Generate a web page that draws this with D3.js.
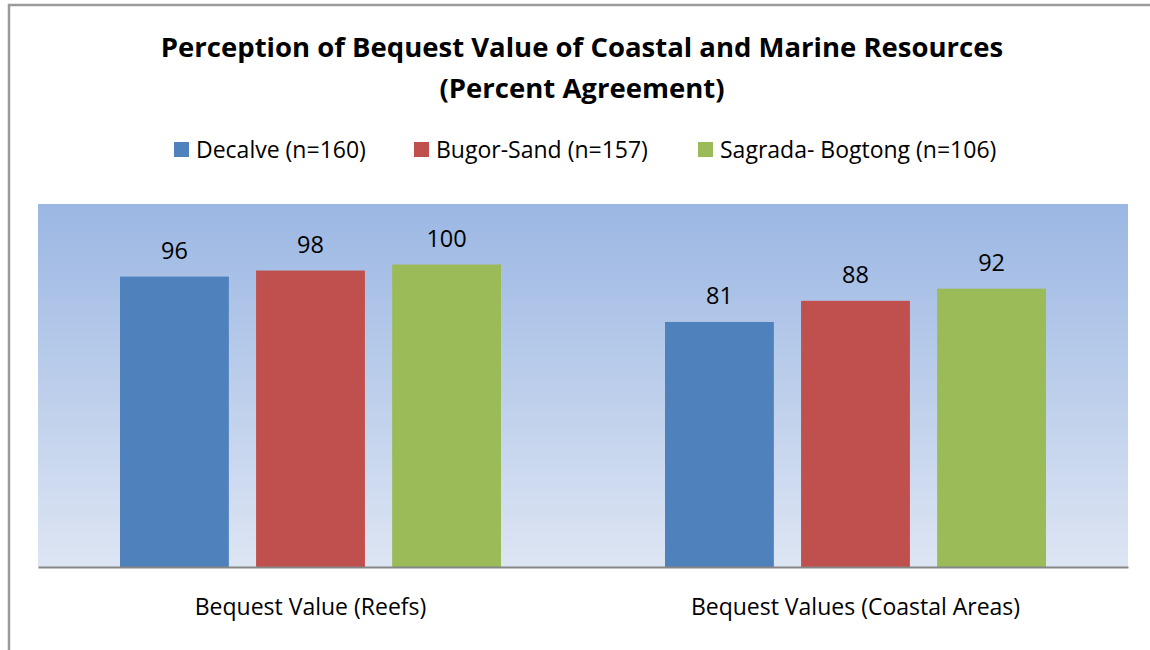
<!DOCTYPE html>
<meta charset="utf-8">
<script src="https://d3js.org/d3.v7.min.js"></script>
<style>
  body { margin: 0; background: #fff; }
  text { font-family: "Open Sans", "Noto Sans", sans-serif; fill: #000; }
</style>
<div id="chart"></div>
<script>

// data
var categories = ["Bequest Value (Reefs)", "Bequest Values (Coastal Areas)"];
var seriesNames = ["Decalve (n=160)", "Bugor-Sand (n=157)", "Sagrada- Bogtong (n=106)"];
var decalve = [96, 81];
var bugorSand = [98, 88];
var sagrada = [100, 92];
var seriesValues = [decalve, bugorSand, sagrada];
var colors = ["#4f81bd", "#c0504d", "#9bbb59"];

var W = 1150, H = 650;
var plot = {left: 38, top: 204, right: 1128, bottom: 567};

var svg = d3.select("#chart").append("svg")
  .attr("width", W).attr("height", H);

// outer chart border (runs off the right/bottom edge)
svg.append("rect")
  .attr("x", 9).attr("y", 5)
  .attr("width", 1160).attr("height", 660)
  .attr("fill", "none").attr("stroke", "#9a9a9a").attr("stroke-width", 2.5);

// gradient plot background
var grad = svg.append("defs").append("linearGradient")
  .attr("id", "bg").attr("x1", 0).attr("y1", 0).attr("x2", 0).attr("y2", 1);
grad.append("stop").attr("offset", "0%").attr("stop-color", "#9bb7e3");
grad.append("stop").attr("offset", "100%").attr("stop-color", "#dde5f3");

svg.append("rect")
  .attr("x", plot.left).attr("y", plot.top)
  .attr("width", plot.right - plot.left).attr("height", plot.bottom - plot.top)
  .attr("fill", "url(#bg)");

// scales
var x0 = d3.scaleBand()
  .domain(categories)
  .range([plot.left, plot.right]);

var x1 = d3.scaleBand()
  .domain(d3.range(seriesNames.length))
  .range([82, x0.bandwidth() - 82])
  .paddingInner(0.2);

var y = d3.scaleLinear()
  .domain([0, 120])
  .range([plot.bottom, plot.top]);

// bars
var groups = svg.selectAll(".grp")
  .data(categories)
  .enter().append("g")
    .attr("transform", function(d) { return "translate(" + x0(d) + ",0)"; });

groups.selectAll("rect")
  .data(function(d, i) { return seriesValues.map(function(s, k) { return {k: k, v: s[i]}; }); })
  .enter().append("rect")
    .attr("x", function(d) { return x1(d.k); })
    .attr("y", function(d) { return y(d.v); })
    .attr("width", x1.bandwidth())
    .attr("height", function(d) { return y(0) - y(d.v); })
    .attr("fill", function(d) { return colors[d.k]; });

groups.selectAll(".val")
  .data(function(d, i) { return seriesValues.map(function(s, k) { return {k: k, v: s[i]}; }); })
  .enter().append("text")
    .attr("x", function(d) { return x1(d.k) + x1.bandwidth() / 2; })
    .attr("y", function(d) { return y(d.v) - 18; })
    .attr("text-anchor", "middle")
    .style("font-size", "23.5px")
    .text(function(d) { return d.v; });

// x axis
var xAxis = svg.append("g")
  .attr("transform", "translate(0," + plot.bottom + ")")
  .call(d3.axisBottom(x0).tickSize(0).tickPadding(32));
xAxis.select(".domain").attr("stroke", "#868686").attr("stroke-width", 2);
xAxis.selectAll("text")
  .style("font-size", "23px")
  .style("font-family", "'Open Sans', sans-serif")
  .attr("fill", "#000");

// title
svg.append("text")
  .attr("x", 582).attr("y", 57)
  .attr("text-anchor", "middle")
  .style("font-size", "27.5px").style("font-weight", "bold")
  .text("Perception of Bequest Value of Coastal and Marine Resources");
svg.append("text")
  .attr("x", 582).attr("y", 98)
  .attr("text-anchor", "middle")
  .style("font-size", "27.5px").style("font-weight", "bold")
  .text("(Percent Agreement)");

// legend
var legendX = [174, 414, 698];
var legend = svg.selectAll(".leg")
  .data(seriesNames)
  .enter().append("g")
    .attr("transform", function(d, i) { return "translate(" + legendX[i] + ",142)"; });
legend.append("rect")
  .attr("width", 15).attr("height", 15)
  .attr("fill", function(d, i) { return colors[i]; });
legend.append("text")
  .attr("x", 22).attr("y", 16)
  .style("font-size", "23px")
  .text(function(d) { return d; });

</script>
